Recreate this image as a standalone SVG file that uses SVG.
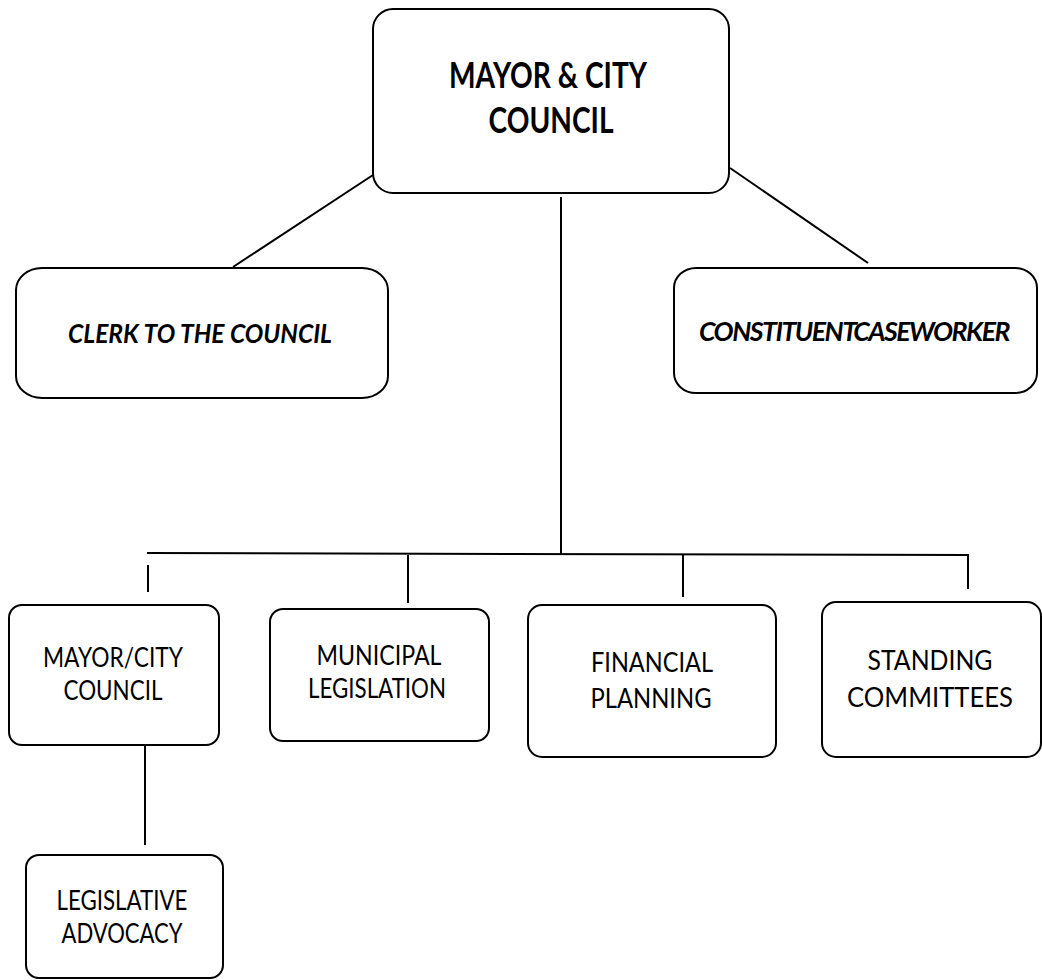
<svg xmlns="http://www.w3.org/2000/svg" width="1042" height="980" viewBox="0 0 1042 980">
  <style>
    .box { fill: #ffffff; stroke: #000000; stroke-width: 2; }
    .link { stroke: #000000; stroke-width: 2; fill: none; stroke-linecap: butt; }
    text { font-family: Lato, "Open Sans", "Liberation Sans", sans-serif; fill: #000000; text-anchor: middle; }
    .head { font-size: 36px; font-weight: bold; }
    .side { font-size: 27px; font-weight: bold; font-style: italic; }
    .unit { font-size: 26px; }
  </style>
  <rect width="1042" height="980" fill="#ffffff"/>

  <!-- connectors -->
  <g id="connectors">
    <line class="link" x1="373" y1="175" x2="233" y2="267"/>
    <line class="link" x1="730" y1="168" x2="868" y2="263"/>
    <line class="link" x1="561" y1="197" x2="561" y2="554"/>
    <line class="link" x1="147" y1="553" x2="969" y2="555"/>
    <line class="link" x1="148" y1="565" x2="148" y2="592"/>
    <line class="link" x1="408" y1="555" x2="408" y2="603"/>
    <line class="link" x1="683" y1="555" x2="683" y2="597"/>
    <line class="link" x1="968" y1="555" x2="968" y2="589"/>
    <line class="link" x1="145" y1="745" x2="145" y2="845"/>
  </g>

  <!-- top node -->
  <g id="mayor-council">
    <rect class="box" x="373" y="9" width="356" height="184" rx="20" ry="20"/>
    <text class="head" x="548" y="88" textLength="198" lengthAdjust="spacingAndGlyphs">MAYOR &amp; CITY</text>
    <text class="head" x="551" y="133" textLength="125" lengthAdjust="spacingAndGlyphs">COUNCIL</text>
  </g>

  <g id="clerk">
    <rect class="box" x="16" y="268" width="372" height="130" rx="26" ry="22"/>
    <text class="side" x="200" y="343" textLength="264" lengthAdjust="spacingAndGlyphs">CLERK TO THE COUNCIL</text>
  </g>

  <g id="caseworker">
    <rect class="box" x="674" y="268" width="363" height="125" rx="22" ry="20"/>
    <text class="side" x="854" y="341" font-size="25" letter-spacing="-1.5" word-spacing="-6" textLength="310" lengthAdjust="spacingAndGlyphs">CONSTITUENT CASEWORKER</text>
  </g>

  <!-- second row -->
  <g id="mayor-city-council">
    <rect class="box" x="9" y="605" width="210" height="140" rx="13" ry="13"/>
    <text class="unit" x="113" y="667" textLength="140" lengthAdjust="spacingAndGlyphs">MAYOR/CITY</text>
    <text class="unit" x="113" y="700" textLength="99" lengthAdjust="spacingAndGlyphs">COUNCIL</text>
  </g>

  <g id="municipal-legislation">
    <rect class="box" x="270" y="609" width="219" height="132" rx="13" ry="13"/>
    <text class="unit" x="379" y="665" textLength="125" lengthAdjust="spacingAndGlyphs">MUNICIPAL</text>
    <text class="unit" x="377" y="698" textLength="138" lengthAdjust="spacingAndGlyphs">LEGISLATION</text>
  </g>

  <g id="financial-planning">
    <rect class="box" x="528" y="605" width="248" height="152" rx="14" ry="14"/>
    <text class="unit" x="652" y="672" textLength="122" lengthAdjust="spacingAndGlyphs">FINANCIAL</text>
    <text class="unit" x="651" y="708" textLength="121" lengthAdjust="spacingAndGlyphs">PLANNING</text>
  </g>

  <g id="standing-committees">
    <rect class="box" x="822" y="602" width="219" height="155" rx="14" ry="14"/>
    <text class="unit" x="930" y="670" textLength="125" lengthAdjust="spacingAndGlyphs">STANDING</text>
    <text class="unit" x="930" y="707" textLength="166" lengthAdjust="spacingAndGlyphs">COMMITTEES</text>
  </g>

  <!-- third row -->
  <g id="legislative-advocacy">
    <rect class="box" x="26" y="855" width="197" height="123" rx="13" ry="13"/>
    <text class="unit" x="122" y="910" textLength="131" lengthAdjust="spacingAndGlyphs">LEGISLATIVE</text>
    <text class="unit" x="122" y="943" textLength="121" lengthAdjust="spacingAndGlyphs">ADVOCACY</text>
  </g>
</svg>
